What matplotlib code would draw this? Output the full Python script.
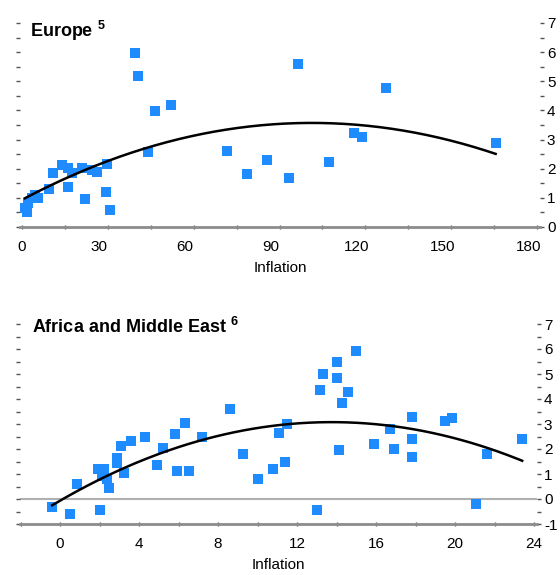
import numpy as np
import matplotlib
matplotlib.use("Agg")
import matplotlib.pyplot as plt
from matplotlib.ticker import MultipleLocator
from matplotlib.transforms import ScaledTranslation

plt.rcParams['font.family'] = ['Liberation Sans', 'DejaVu Sans']
plt.rcParams['mathtext.fontset'] = 'custom'
plt.rcParams['mathtext.rm'] = 'Liberation Sans'
plt.rcParams['mathtext.bf'] = 'Liberation Sans:bold'
plt.rcParams['axes.unicode_minus'] = False

# ---------------- data ----------------
europe_title = "Europe"
europe_note = "5"
europe_infl = [1.0, 1.7, 2.1, 3.5, 4.5, 5.6, 9.4, 10.8, 13.9, 16.0, 16.0, 17.4,
               20.9, 22.0, 24.4, 26.1, 29.6, 29.3, 30.7, 39.4, 40.4, 43.9, 46.3,
               51.9, 71.8, 78.7, 85.7, 93.4, 96.5, 107.3, 116.0, 118.8, 127.2, 165.5]
europe_growth = [0.65, 0.5, 0.82, 1.0, 1.1, 1.0, 1.3, 1.85, 2.13, 2.03, 1.37, 1.85,
                 2.03, 0.96, 1.96, 1.9, 2.16, 1.2, 0.58, 5.98, 5.19, 2.58, 3.99,
                 4.19, 2.61, 1.82, 2.3, 1.68, 5.6, 2.23, 3.23, 3.1, 4.78, 2.89]
europe_xticks = [0, 30, 60, 90, 120, 150, 180]
europe_yticks = [0, 1, 2, 3, 4, 5, 6, 7]

africa_title = "Africa and Middle East"
africa_note = "6"
africa_infl = [-0.4, 0.5, 0.86, 2.0, 1.93, 2.1, 2.4, 2.5, 2.2, 2.9, 2.9, 3.24,
               3.1, 3.6, 4.3, 4.9, 5.2, 5.8, 6.33, 5.9, 6.55, 7.2, 8.6, 9.25,
               10.04, 10.8, 11.1, 11.5, 11.4, 13.0, 13.16, 13.3, 14.0, 14.0, 14.1,
               14.3, 14.6, 15.0, 15.9, 16.7, 16.9, 17.8, 17.8, 17.8, 19.5, 19.85,
               21.06, 21.6, 23.4]
africa_growth = [-0.32, -0.6, 0.6, -0.44, 1.2, 0.92, 0.8, 0.44, 1.2, 1.64, 1.44,
                 1.04, 2.12, 2.32, 2.48, 1.36, 2.04, 2.6, 3.04, 1.12, 1.12, 2.48,
                 3.6, 1.8, 0.8, 1.2, 2.64, 3.0, 1.48, -0.44, 4.36, 5.0, 5.48, 4.84,
                 1.96, 3.84, 4.28, 5.92, 2.2, 2.8, 2.0, 3.28, 2.4, 1.68, 3.12, 3.24,
                 -0.2, 1.8, 2.4]
africa_xticks = [0, 4, 8, 12, 16, 20, 24]
africa_yticks = [-1, 0, 1, 2, 3, 4, 5, 6, 7]

xlabel = "Inflation"

BLUE = '#1E8CFF'

fig = plt.figure(figsize=(5.6, 5.75), dpi=100)
W, H = 560.0, 575.0


def make_ax(left, right, bottom_px, top_px):
    return fig.add_axes([left / W, (H - bottom_px) / H, (right - left) / W,
                         (bottom_px - top_px) / H])


def style(ax, xlim, ylim, xticks, xminor, yticks, ymin, title, note, title_pos,
          xlabelpad):
    ax.set_xlim(*xlim)
    ax.set_ylim(*ylim)
    for s in ['top', 'left', 'right']:
        ax.spines[s].set_visible(False)
    ax.spines['bottom'].set_color('#8c8c8c')
    ax.spines['bottom'].set_linewidth(2.0)
    ax.set_xticks(xticks)
    ax.xaxis.set_minor_locator(MultipleLocator(xminor))
    ax.tick_params(axis='x', which='both', direction='inout', length=3,
                   width=1, color='#555555', labelsize=11, pad=8)
    ax.yaxis.tick_right()
    ax.yaxis.set_ticks_position('both')
    ax.set_yticks(yticks)
    ax.yaxis.set_minor_locator(MultipleLocator(ymin))
    ax.tick_params(axis='y', which='both', direction='out', length=3, width=1,
                   color='#555555', labelsize=11, pad=2, left=True, right=True,
                   labelleft=False, labelright=True)
    ax.tick_params(axis='y', which='both', left=True)
    ax.set_xlabel(xlabel, fontsize=11, labelpad=xlabelpad)
    ax.text(title_pos[0], title_pos[1], title + r" $^{\mathbf{" + note + "}}$",
            transform=ax.transAxes, fontsize=13, fontweight='bold',
            va='baseline', ha='left')


def fit_curve(ax, x, y):
    x = np.asarray(x)
    y = np.asarray(y)
    c = np.polyfit(x, y, 2)
    xs = np.linspace(x.min(), x.max(), 200)
    ax.plot(xs, np.polyval(c, xs), color='black', lw=1.8, zorder=4)


# Europe
ax1 = make_ax(20, 540, 227, 23)
ax1.scatter(europe_infl, europe_growth, marker='s', s=58, color=BLUE,
            linewidths=0, zorder=3)
fit_curve(ax1, europe_infl, europe_growth)
style(ax1, (-0.7, 181), (0, 7), europe_xticks, 15, europe_yticks, 0.5,
      europe_title, europe_note, (0.019, 0.931), 5)
# reference draws the top panel's labels (except 0) a little left of their ticks
shift = ScaledTranslation(-9 / 100, 0, fig.dpi_scale_trans)
for i, lab in enumerate(ax1.get_xticklabels()):
    if i > 0:
        lab.set_transform(lab.get_transform() + shift)

# Africa & Middle East
ax2 = make_ax(20, 537, 524, 324)
ax2.axhline(0, color='#b0b0b0', lw=1.5, zorder=1)
ax2.scatter(africa_infl, africa_growth, marker='s', s=58, color=BLUE,
            linewidths=0, zorder=3)
fit_curve(ax2, africa_infl, africa_growth)
style(ax2, (-2.03, 24.15), (-1, 7), africa_xticks, 2, africa_yticks, 0.5,
      africa_title, africa_note, (0.023, 0.955), 5)

fig.savefig("out.png", dpi=100)
